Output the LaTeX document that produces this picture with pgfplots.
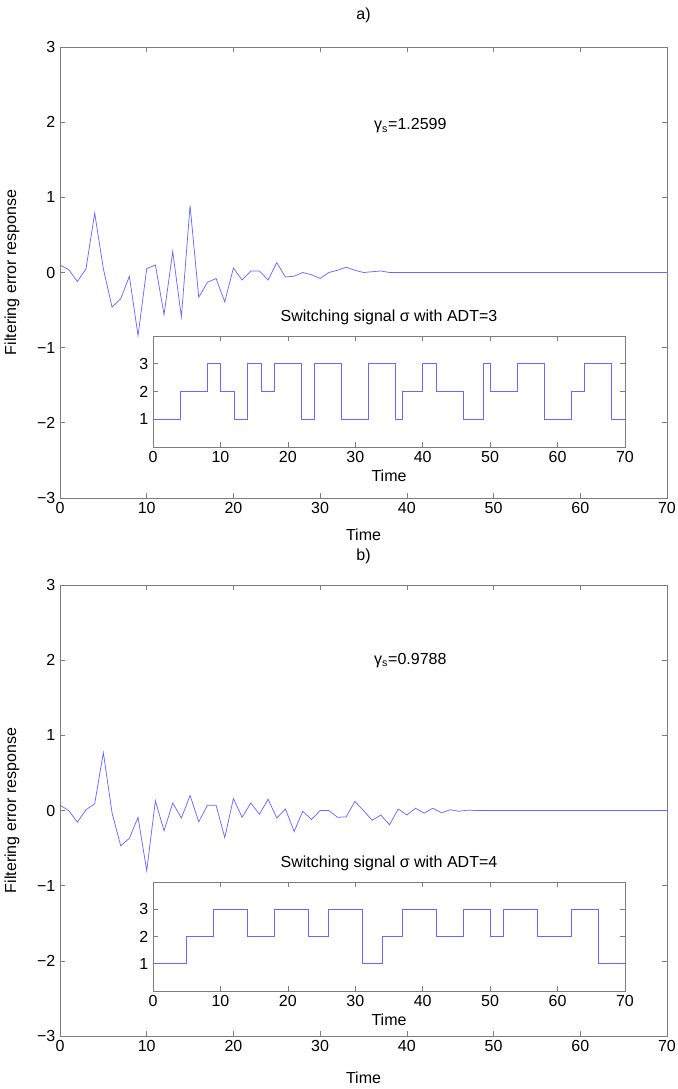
\documentclass[border=0pt]{standalone}
\usepackage{fontspec}
\setmainfont{Liberation Sans}
\usepackage{pgfplots}
\pgfplotsset{compat=1.18}

\definecolor{sig}{RGB}{105,105,255}
\definecolor{axgray}{RGB}{125,125,125}

\pgfplotsset{
  mat/.style={
    scale only axis,
    axis line style={axgray},
    tick style={axgray, line width=0.5pt},
    major tick length=4pt,
    tick align=inside,
    ticklabel style={font=\fontsize{12}{14}\selectfont},
    label style={font=\fontsize{12}{14}\selectfont},
    title style={font=\fontsize{12}{14}\selectfont},
    /pgf/number format/assume math mode=true,
    axis background/.style={fill=white},
  },
  main/.style={
    mat, width=455.25pt, height=338.25pt,
    xmin=0, xmax=70, ymin=-3, ymax=3,
    xtick={0,10,...,70}, ytick={-3,-2,...,3},
    yticklabels={−3,−2,−1,0,1,2,3},
    xlabel={Time}, ylabel={Filtering error response},
    ylabel style={at={(axis description cs:-0.079,0.5)}, anchor=center, rotate=0},
  },
  inset/.style={
    mat, width=354pt,
    xmin=0, xmax=70, ymin=0, ymax=4,
    xtick={0,10,...,70}, ytick={1,2,3},
    xlabel={Time},
    xlabel style={at={(axis description cs:0.5,0)}, anchor=center, yshift=-21.75pt},
    title style={at={(axis description cs:0.5,1)}, anchor=center, yshift=8.25pt},
  },
}

\begin{document}
\begin{tikzpicture}[font=\fontsize{12}{14}\selectfont]
\useasboundingbox (0,0) rectangle (508.5pt,816.75pt);

% ---------- a) ----------
\begin{axis}[main, at={(45pt,443.25pt)}, anchor=south west,
  title={a)}, title style={at={(axis description cs:0.5,1)}, anchor=center, yshift=18pt},
  xlabel style={at={(axis description cs:0.5,0)}, anchor=center, yshift=-27.75pt}]
\addplot[sig, line width=0.55pt] coordinates {
(0,0.10) (1,0.04) (2,-0.12) (3,0.05) (4,0.79) (5,0.05) (6,-0.46) (7,-0.35)
(8,-0.05) (9,-0.84) (10,0.05) (11,0.10) (12,-0.56) (13,0.28) (14,-0.59)
(15,0.89) (16,-0.33) (17,-0.13) (18,-0.08) (19,-0.39) (20,0.06) (21,-0.10)
(22,0.02) (23,0.02) (24,-0.10) (25,0.13) (26,-0.06) (27,-0.05) (28,0.00)
(29,-0.03) (30,-0.08) (31,0.00) (32,0.03) (33,0.07) (34,0.03) (35,0.00)
(36,0.01) (37,0.02) (38,0.00) (40,0) (50,0) (60,0) (70,0)};
\node at (axis cs:40.4,1.95) {γ\textsubscript{s}=1.2599};
\end{axis}

\begin{axis}[inset, at={(114.75pt,481.5pt)}, anchor=south west, height=83.25pt,
  title={Switching signal σ with ADT=3}]
\addplot[sig, line width=0.55pt, const plot] coordinates {
(0,1) (4,2) (8,3) (10,2) (12,1) (14,3) (16,2) (18,3) (22,1) (24,3) (28,1)
(32,3) (36,1) (37,2) (40,3) (42,2) (46,1) (49,3) (50,2) (54,3) (58,1)
(62,2) (64,3) (68,1) (70,1)};
\end{axis}

% ---------- b) ----------
\begin{axis}[main, at={(45pt,39.75pt)}, anchor=south west,
  title={b)}, title style={at={(axis description cs:0.5,1)}, anchor=center, yshift=15.75pt},
  xlabel style={at={(axis description cs:0.5,0)}, anchor=center, yshift=-31.5pt}]
\addplot[sig, line width=0.55pt] coordinates {
(0,0.07) (1,0.00) (2,-0.155) (3,0.01) (4,0.09) (5,0.77) (6,-0.03) (7,-0.47)
(8,-0.37) (9,-0.09) (10,-0.80) (11,0.13) (12,-0.27) (13,0.10) (14,-0.10)
(15,0.20) (16,-0.15) (17,0.07) (18,0.07) (19,-0.36) (20,0.16) (21,-0.09)
(22,0.10) (23,-0.05) (24,0.15) (25,-0.10) (26,0.02) (27,-0.28) (28,-0.01)
(29,-0.12) (30,0.00) (31,0.00) (32,-0.09) (33,-0.085) (34,0.12) (35,0.00)
(36,-0.13) (37,-0.06) (38,-0.19) (39,0.02) (40,-0.06) (41,0.03) (42,-0.035)
(43,0.03) (44,-0.03) (45,0.01) (46,-0.01) (47,0.005) (48,0) (50,0) (60,0) (70,0)};
\node at (axis cs:40.4,2.0) {γ\textsubscript{s}=0.9788};
\end{axis}

\begin{axis}[inset, at={(114.75pt,73.5pt)}, anchor=south west, height=81.75pt,
  title={Switching signal σ with ADT=4}]
\addplot[sig, line width=0.55pt, const plot] coordinates {
(0,1) (5,2) (9,3) (14,2) (18,3) (23,2) (26,3) (31,1) (34,2) (37,3) (42,2)
(46,3) (50,2) (52,3) (57,2) (62,3) (66,1) (70,1)};
\end{axis}
\end{tikzpicture}
\end{document}
